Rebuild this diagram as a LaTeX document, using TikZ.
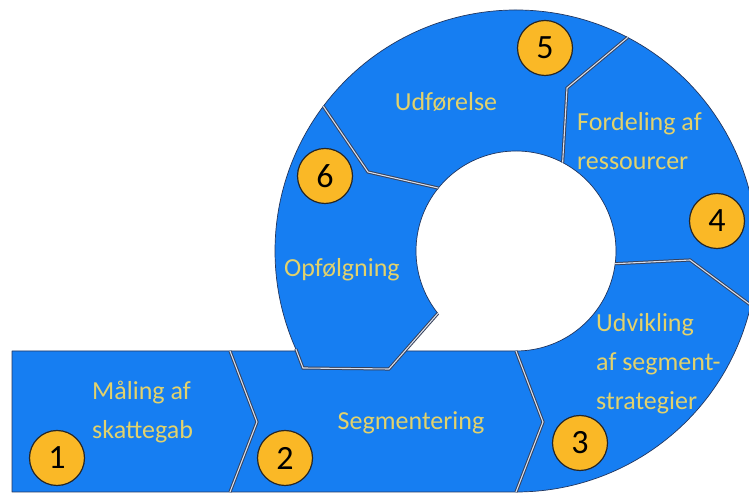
\documentclass[tikz,border=0pt]{standalone}
\usepackage{fontspec}
\setmainfont{Carlito}
\definecolor{segblue}{RGB}{22,126,242}
\definecolor{edge}{RGB}{35,55,95}
\definecolor{divdark}{RGB}{55,65,90}
\definecolor{divlight}{RGB}{215,222,235}
\definecolor{txt}{RGB}{226,210,108}
\definecolor{badge}{RGB}{250,184,38}
\tikzset{
  seg/.style={fill=segblue, draw=edge, line width=0.7pt, line join=round},
  divider/.style={draw=divdark, line width=1pt, double=divlight, double distance=1.1pt, line join=miter},
  lbl/.style={text=txt, font=\fontsize{26}{39}\selectfont, align=left, inner sep=0pt},
  numbadge/.style={circle, fill=badge, draw=black!85, line width=1.2pt, minimum size=55pt, inner sep=0pt, font=\fontsize{34}{34}\selectfont, text=black}
}
\begin{document}
\begin{tikzpicture}[x=1pt,y=1pt]
\useasboundingbox (0,0) rectangle (749,494);
\clip (0,0) rectangle (749,494);
\fill[white] (0,0) rectangle (749,494);
\coordinate (C) at (516,243);
% strip segments
\path[seg] (12,2) -- (230,2) -- (257,72) -- (230,143) -- (12,143) -- cycle;
\path[seg] (230,2) -- (516,2) -- (543,72) -- (516,143) -- (230,143) -- (257,72) -- cycle;
% ring segments
\path[seg] (516,143) -- (543,72) -- (516,2) arc[start angle=270,end angle=347,radius=241] -- (690,234) -- ([shift={(-7.3:100)}]C) arc[start angle=-7.3,end angle=-90,radius=100] -- cycle;
\path[seg] ([shift={(-13:241)}]C) arc[start angle=-13,end angle=62.4,radius=241] -- (567,406) -- ([shift={(62.2:100)}]C) arc[start angle=62.2,end angle=-7.3,radius=100] -- (690,234) -- cycle;
\path[seg] ([shift={(62.4:241)}]C) arc[start angle=62.4,end angle=143.1,radius=241] -- (368,322) -- ([shift={(141:100)}]C) arc[start angle=141,end angle=62.2,radius=100] -- (567,406) -- cycle;
\path[seg] ([shift={(143.1:241)}]C) arc[start angle=143.1,end angle=204,radius=241] -- (303,126) -- (389,125) -- ([shift={(218.6:100)}]C) arc[start angle=218.6,end angle=141,radius=100] -- (368,322) -- cycle;
% dividers
\draw[divider] (230,143) -- (257,72) -- (230,2);
\draw[divider] (516,143) -- (543,72) -- (516,2);
\draw[divider] ([shift={(-7.3:100)}]C) -- (690,234) -- ([shift={(-13:241)}]C);
\draw[divider] ([shift={(62.2:100)}]C) -- (567,406) -- ([shift={(62.4:241)}]C);
\draw[divider] ([shift={(141:100)}]C) -- (368,322) -- ([shift={(143.1:241)}]C);
\draw[divider] ([shift={(204:241)}]C) -- (303,126) -- (389,125) -- ([shift={(218.6:100)}]C);
% labels
\node[lbl, anchor=west] (l1) at (92,81.5) {Måling af\\skattegab};
\node[lbl] (l2) at (411,71) {Segmentering};
\node[lbl, anchor=west] (l3) at (596,130) {Udvikling\\af segment-\\strategier};
\node[lbl, anchor=west] (l4) at (577,353) {Fordeling af\\ressourcer};
\node[lbl] (l5) at (446,392) {Udførelse};
\node[lbl] (l6) at (342,224) {Opfølgning};
% badges
\node[numbadge] (n1) at (57,36) {1};
\node[numbadge] (n2) at (285,36) {2};
\node[numbadge] (n3) at (580,51) {3};
\node[numbadge] (n4) at (717,273) {4};
\node[numbadge] (n5) at (545,446) {5};
\node[numbadge] (n6) at (325,318) {6};
\end{tikzpicture}
\end{document}
